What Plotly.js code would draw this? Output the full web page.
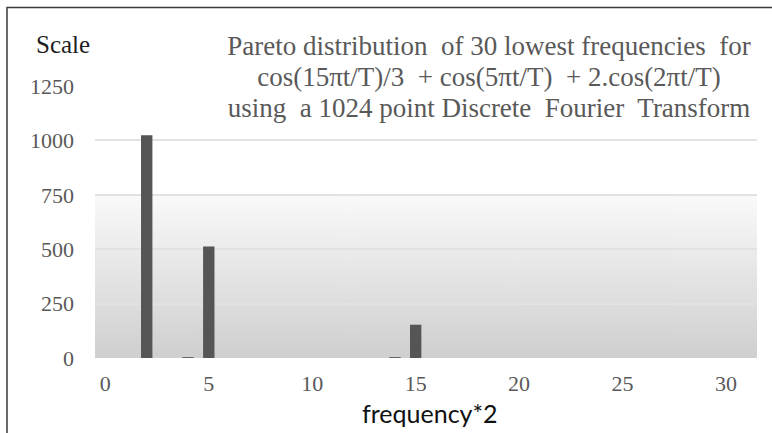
<!DOCTYPE html>
<html>
<head>
<meta charset="utf-8">
<script src="https://cdn.plot.ly/plotly-3.0.1.min.js"></script>
<style>html,body{margin:0;padding:0;background:#fff;}#chart{width:772px;height:433px;}</style>
</head>
<body>
<div id="chart"></div>
<script>
// ---- data ----
const freqX = [0,1,2,3,4,5,6,7,8,9,10,11,12,13,14,15,16,17,18,19,20,21,22,23,24,25,26,27,28,29,30,31];
const scaleY = [0,0,1024,0,4,512,0,0,0,0,0,0,0,0,4,153,0,0,0,0,0,0,0,0,0,0,0,0,0,0,0,0];
const xTicks = [0,5,10,15,20,25,30];
const yTicks = [0,250,500,750,1000,1250];
const titleLines = [
  "Pareto distribution\u00a0 of 30 lowest frequencies\u00a0 for",
  "cos(15\u03c0t/T)/3\u00a0 + cos(5\u03c0t/T)\u00a0 + 2.cos(2\u03c0t/T)",
  "using\u00a0 a 1024 point Discrete\u00a0 Fourier\u00a0 Transform"
];
const yLabel = "Scale";
const xLabel = "frequency*2";

const SERIF = "Liberation Serif";

// gradient background image for the plot area
function gradientURL(){
  const c = document.createElement('canvas');
  c.width = 4; c.height = 272;
  const g = c.getContext('2d');
  const gr = g.createLinearGradient(0,0,0,272);
  gr.addColorStop(0,'#ffffff');
  gr.addColorStop(0.395,'#ffffff');
  gr.addColorStop(0.405,'#f9f9f9');
  gr.addColorStop(1,'#cfcfcf');
  g.fillStyle = gr; g.fillRect(0,0,4,272);
  return c.toDataURL('image/png');
}

const W = 772, H = 433, L = 95, R = 15, T = 86, B = 75;
const pw = W-L-R, ph = H-T-B;
const px = v => (v-L)/pw;
const py = v => (H-B-v)/ph;

const trace = {
  type:'bar', x:freqX, y:scaleY, width:0.55,
  marker:{color:'#555555', line:{width:0}},
  hoverinfo:'x+y'
};

const titleY = [46, 77, 108];
const titleAnns = titleLines.map((t,i) => ({
  text:t, xref:'paper', yref:'paper', x:px(489), y:py(titleY[i]),
  xanchor:'center', yanchor:'middle', showarrow:false, align:'center',
  width:540, bgcolor:'#ffffff', borderpad:0,
  font:{family:SERIF, size:27, color:'#595959'}
}));

const layout = {
  width:W, height:H,
  margin:{l:L, r:R, t:T, b:B, pad:0},
  paper_bgcolor:'#ffffff', plot_bgcolor:'rgba(0,0,0,0)',
  showlegend:false,
  xaxis:{
    range:[-0.5,31.5], tickmode:'array', tickvals:xTicks, ticktext:xTicks.map(String),
    showgrid:false, zeroline:false, showline:false, ticks:'',
    ticklabelstandoff:10,
    tickfont:{family:SERIF, size:22, color:'#595959'}
  },
  yaxis:{
    range:[0,1250], tickmode:'array', tickvals:yTicks, ticktext:yTicks.map(String),
    showgrid:true, gridcolor:'#e2e2e2', gridwidth:2, zeroline:false, showline:false, ticks:'',
    ticklabelstandoff:20,
    tickfont:{family:SERIF, size:22, color:'#595959'}
  },
  images:[{
    source:gradientURL(), xref:'paper', yref:'paper', x:0, y:1, sizex:1, sizey:1,
    xanchor:'left', yanchor:'top', sizing:'stretch', layer:'below'
  }],
  shapes:[{
    type:'rect', xref:'paper', yref:'paper',
    x0:px(7), x1:px(820), y0:py(480), y1:py(7.5),
    line:{color:'#3a3a3a', width:1.5}, fillcolor:'rgba(0,0,0,0)', layer:'above'
  }],
  annotations:titleAnns.concat([
    {
      text:yLabel, xref:'paper', yref:'paper', x:px(34), y:py(44),
      xanchor:'left', yanchor:'middle', showarrow:false,
      font:{family:SERIF, size:25, color:'#1e1e1e'}
    },
    {
      text:xLabel, xref:'paper', yref:'paper', x:px(430), y:py(413),
      xanchor:'center', yanchor:'middle', showarrow:false,
      font:{family:'Lato', size:25, color:'#111111'}
    }
  ])
};

Plotly.newPlot('chart',[trace],layout,{displayModeBar:false, staticPlot:true});
</script>
</body>
</html>
